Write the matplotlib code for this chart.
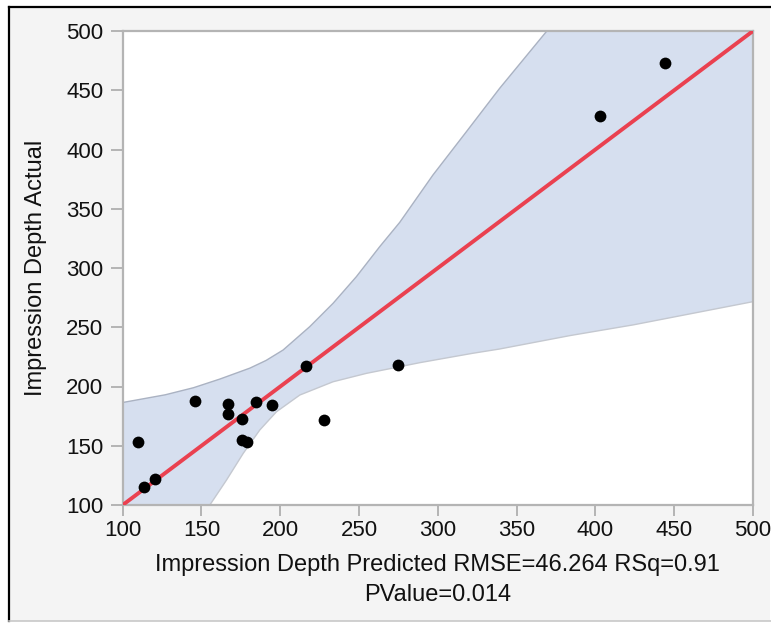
import matplotlib
matplotlib.use("Agg")
import matplotlib.pyplot as plt
from matplotlib.lines import Line2D
from matplotlib.patches import Rectangle

plt.rcParams["font.family"] = ["Liberation Sans", "DejaVu Sans"]

# observed points: predicted vs actual impression depth
predicted = [109.9, 113.7, 120.5, 145.8, 166.9, 166.9, 175.8, 175.8, 178.6,
             184.3, 194.9, 216.2, 227.8, 274.7, 403.2, 444.2]
actual = [152.9, 115.4, 121.7, 187.8, 185.5, 176.5, 172.3, 154.9, 152.9,
          186.9, 184.4, 217.3, 171.7, 217.9, 428.3, 473.4]

# fitted line
fit_x = [100, 500]
fit_y = [100, 500]

# confidence curves
upper_x = [100, 127, 145, 161.7, 180.7, 191, 201.8, 218.7, 233.5, 248.3, 263.1,
           275.8, 296.9, 318.1, 339.2, 368.8]
upper_y = [186.5, 193, 199, 206.3, 215.5, 222, 230.8, 250.5, 270.2, 292.7, 318,
           338.5, 378.5, 415, 451.6, 499.4]
lower_x = [155.3, 165.9, 176.5, 187, 197.6, 212.4, 233.5, 254.7, 275.8, 288.5,
           322, 339, 384, 424, 500]
lower_y = [100, 121.1, 143.6, 163.3, 178.7, 192.8, 204, 211.1, 216.7, 220.1,
           228, 231.6, 243, 252, 271.6]

ticks = [100, 150, 200, 250, 300, 350, 400, 450, 500]
lo, hi = 100, 500

W, H = 771, 623
fig = plt.figure(figsize=(W / 100, H / 100), dpi=100)
fig.patch.set_facecolor("white")


def px(x, y):
    return x / W, 1 - y / H


# report panel background and frame
fig.patches.append(Rectangle(px(9, 621), (770 - 9) / W, (621 - 7) / H,
                             transform=fig.transFigure, facecolor="#f4f4f4",
                             edgecolor="none", zorder=-5))
for (x0, y0), (x1, y1), c, lw in [((9, 7), (771, 7), "black", 1.6),
                                  ((9, 7), (9, 621), "black", 1.6),
                                  ((9, 621), (771, 621), "#c8c8c8", 1.2)]:
    a, b = px(x0, y0)
    c2, d = px(x1, y1)
    fig.lines.append(Line2D([a, c2], [b, d], transform=fig.transFigure,
                            color=c, linewidth=lw, zorder=-4))

ax = fig.add_axes([122.7 / W, 1 - 505 / H, (753 - 122.7) / W, (505 - 31) / H])
ax.set_facecolor("white")

band_x = upper_x + [hi] + lower_x[::-1] + [lo]
band_y = upper_y + [hi] + lower_y[::-1] + [lo]
ax.fill(band_x, band_y, color="#d6dfef", linewidth=0, zorder=1)
ax.plot(upper_x, upper_y, color="#aab2c2", linewidth=1.0, zorder=2)
ax.plot(lower_x, lower_y, color="#c4c8d0", linewidth=1.0, zorder=2)

ax.plot(fit_x, fit_y, color="#ea4150", linewidth=2.8, zorder=3,
        solid_capstyle="butt")
ax.scatter(predicted, actual, s=72, color="black", zorder=4, linewidths=0)

ax.set_xlim(lo, hi)
ax.set_ylim(lo, hi)
ax.set_xticks(ticks)
ax.set_yticks(ticks)
for s in ax.spines.values():
    s.set_color("#b4b4b4")
    s.set_linewidth(1.6)
ax.tick_params(axis="both", colors="#b4b4b4", width=1.4, labelsize=16,
               labelcolor="#111111")
ax.tick_params(axis="y", length=9, pad=5)
ax.tick_params(axis="x", length=8, pad=3)

ax.set_xlabel("Impression Depth Predicted RMSE=46.264 RSq=0.91\nPValue=0.014",
              fontsize=17, color="#111111", labelpad=9, linespacing=1.5)
ax.set_ylabel("Impression Depth Actual", fontsize=17, color="#111111",
              labelpad=14)

fig.savefig("out.png", dpi=100, facecolor=fig.get_facecolor())
